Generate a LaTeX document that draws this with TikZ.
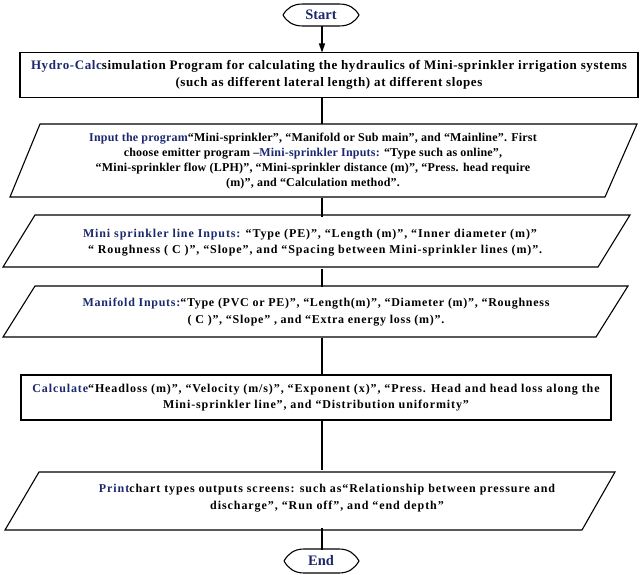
\documentclass[tikz,border=0pt]{standalone}
\usepackage{fontspec}
\setmainfont{Liberation Serif}
\usetikzlibrary{arrows.meta,calc}
\definecolor{navy}{RGB}{28,40,110}
\newcommand{\hl}[1]{\textcolor{navy}{#1}}
\newcommand{\ls}[1]{\addfontfeature{LetterSpace=#1}}
\begin{document}
\begin{tikzpicture}[x=1pt,y=-1pt,
  every node/.style={inner sep=0pt, outer sep=0pt},
  txt/.style={align=center, font=\fontsize{12}{15.2}\selectfont\bfseries},
  rectbox/.style={draw, line width=1.1pt, txt},
  line/.style={line width=1.1pt},
  shapeline/.style={line width=1.1pt, line join=miter},
  term/.style={font=\fontsize{14.5}{15}\selectfont\bfseries, text=navy, minimum width=76pt, minimum height=22pt}
]
\useasboundingbox (0,0) rectangle (640,575);
\coordinate (spine) at (322,0);

% Start
\node[term] (start) at (321,15) {Start};
\draw[shapeline] (283,15) .. controls (287,8) and (293,4) .. (303,4) -- (339,4) .. controls (349,4) and (355,8) .. (359,15) .. controls (355,22) and (349,26) .. (339,26) -- (303,26) .. controls (293,26) and (287,22) .. (283,15);

% Box 1
\node[rectbox, minimum width=618pt, minimum height=45pt, font=\fontsize{13}{17}\selectfont\bfseries\ls{4.6}] (box1) at (329,75)
 {\hl{Hydro-Calc}simulation Program for calculating the hydraulics of Mini-sprinkler irrigation systems\\(such as different lateral length) at different slopes};

% Parallelogram 1
\node[txt, font=\fontsize{12}{15.2}\selectfont\bfseries\ls{1.7}, minimum height=73pt] (p1) at (313,161)
 {\hl{Input the program}“Mini-sprinkler”, “Manifold or Sub main”, and “Mainline”. First\\
  choose emitter program –\hl{Mini-sprinkler Inputs:} “Type such as online”,\\
  “Mini-sprinkler flow (LPH)”, “Mini-sprinkler distance (m)”, “Press. head require\\
  (m)”, and “Calculation method”.};
\draw[shapeline] (40,124) -- (637,124) -- (605,197) -- (10,197) -- cycle;

% Parallelogram 2
\node[txt, align=left, anchor=west, font=\fontsize{12}{16}\selectfont\bfseries\ls{7.4}, minimum height=52pt] (p2) at (83,242.5)
 {\hl{Mini sprinkler line Inputs:} “Type (PE)”, “Length (m)”, “Inner diameter (m)”\\
  \hspace*{5pt}“ Roughness ( C )”, “Slope”, and “Spacing between Mini-sprinkler lines (m)”.};
\draw[shapeline] (35,215) -- (630,215) -- (598,267) -- (3,267) -- cycle;

% Parallelogram 3
\node[txt, font=\fontsize{12}{17}\selectfont\bfseries\ls{6}, minimum height=51pt] (p3) at (316,312)
 {\hl{Manifold Inputs:}“Type (PVC or PE)”, “Length(m)”, “Diameter (m)”, “Roughness\\
  ( C )”, “Slope” , and “Extra energy loss (m)”.};
\draw[shapeline] (35,286) -- (628,286) -- (596,337) -- (3,337) -- cycle;

% Calculate box
\node[rectbox, font=\fontsize{12}{15.5}\selectfont\bfseries\ls{7.4}, minimum width=590pt, minimum height=45pt] (calc) at (316,397.5)
 {\hl{Calculate}“Headloss (m)”, “Velocity (m/s)”, “Exponent (x)”, “Press. Head and head loss along the\\
  Mini-sprinkler line”, and “Distribution uniformity”};

% Print parallelogram
\node[txt, font=\fontsize{12}{17}\selectfont\bfseries\ls{7.8}, minimum height=58pt] (pr) at (327,498.5)
 {\hl{Print}chart types outputs screens: such as“Relationship between pressure and\\
  discharge”, “Run off”, and “end depth”};
\draw[shapeline] (39,472) -- (615,472) -- (582,530) -- (5,530) -- cycle;

% End
\node[term] (end) at (321,561) {End};
\draw[shapeline] (284,561) .. controls (288,554) and (294,549) .. (304,549) -- (339,549) .. controls (349,549) and (355,554) .. (359,561) .. controls (355,568) and (349,573) .. (339,573) -- (304,573) .. controls (294,573) and (288,568) .. (284,561);

% Connectors
\draw[line, -{Triangle[length=9pt,width=6pt]}] (start.south -| spine) -- (box1.north -| spine);
\draw[line] (box1.south -| spine) -- (p1.north -| spine);
\draw[line] (p1.south -| spine) -- (p2.north -| spine);
\draw[line] (p2.south -| spine) -- (p3.north -| spine);
\draw[line] (p3.south -| spine) -- (calc.north -| spine);
\draw[line] (calc.south -| spine) -- (pr.north -| spine);
\draw[line] (pr.south -| spine) -- (end.north -| spine);
\end{tikzpicture}
\end{document}
